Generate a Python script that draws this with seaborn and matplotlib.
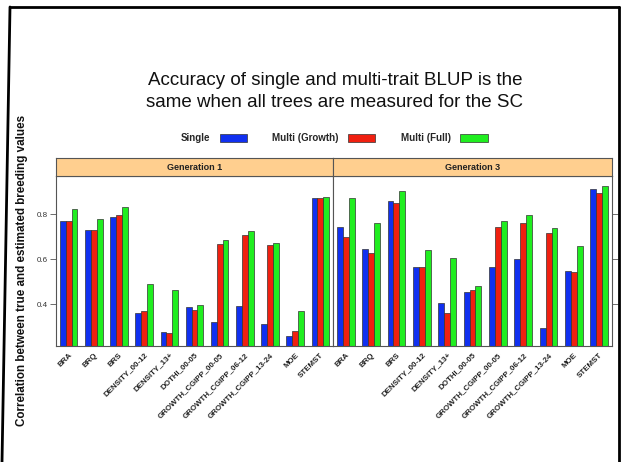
import matplotlib
matplotlib.use("Agg")
import matplotlib.pyplot as plt
from matplotlib.patches import Patch
from matplotlib.lines import Line2D
import seaborn as sns
import pandas as pd

traits = ["BRA", "BRQ", "BRS", "DENSITY_00-12", "DENSITY_13+", "DOTHI_00-05",
          "GROWTH_CGIPP_00-05", "GROWTH_CGIPP_06-12", "GROWTH_CGIPP_13-24",
          "MOE", "STEMST"]
methods = ["Single", "Multi (Growth)", "Multi (Full)"]
generations = ["Generation 1", "Generation 3"]

gen1_single = [0.772, 0.730, 0.787, 0.363, 0.276, 0.387, 0.323, 0.392, 0.311, 0.260, 0.871]
gen1_multi_growth = [0.772, 0.729, 0.797, 0.369, 0.273, 0.373, 0.668, 0.708, 0.662, 0.283, 0.871]
gen1_multi_full = [0.824, 0.781, 0.834, 0.489, 0.464, 0.398, 0.686, 0.726, 0.671, 0.369, 0.876]

gen3_single = [0.745, 0.647, 0.860, 0.567, 0.404, 0.453, 0.564, 0.600, 0.293, 0.549, 0.911]
gen3_multi_growth = [0.698, 0.628, 0.849, 0.568, 0.360, 0.462, 0.742, 0.761, 0.717, 0.543, 0.895]
gen3_multi_full = [0.871, 0.761, 0.905, 0.641, 0.606, 0.483, 0.772, 0.798, 0.738, 0.660, 0.926]

yticks = [0.4, 0.6, 0.8]
title = "Accuracy of single and multi-trait BLUP is the\nsame when all trees are measured for the SC"
ylabel = "Correlation between true and estimated breeding values"

colors = ["#1030F0", "#F02010", "#20EE20"]
strip_color = "#FFCF8F"

rows = []
for gen, series in zip(generations,
                       [(gen1_single, gen1_multi_growth, gen1_multi_full),
                        (gen3_single, gen3_multi_growth, gen3_multi_full)]):
    for m, vals in zip(methods, series):
        for t, v in zip(traits, vals):
            rows.append({"generation": gen, "method": m, "trait": t, "value": v})
df = pd.DataFrame(rows)

sns.set_style("white")
plt.rcParams["font.family"] = ["Liberation Sans", "DejaVu Sans"]

W, H = 621, 462
fig = plt.figure(figsize=(W / 100, H / 100), dpi=100)

def fx(px):
    return px / W

def fy(py):
    return 1 - py / H

panel_top, panel_bot = 175.7, 345.7
strip_top = 158.3
panels = [(56, 333), (333, 612)]
ylim = (0.216, 0.972)

for i, (gen, (x0, x1)) in enumerate(zip(generations, panels)):
    ax = fig.add_axes([fx(x0), fy(panel_bot), fx(x1 - x0), (panel_bot - panel_top) / H])
    sub = df[df["generation"] == gen]
    sns.barplot(data=sub, x="trait", y="value", hue="method", order=traits,
                hue_order=methods, palette=colors, edgecolor="#333333",
                linewidth=0.5, width=0.7, ax=ax, legend=False, saturation=1)
    ax.set_ylim(*ylim)
    ax.set_xlim(-0.5, len(traits) - 0.5)
    ax.set_xlabel("")
    ax.set_ylabel("")
    ax.set_yticks(yticks)
    for s in ax.spines.values():
        s.set_color("#555555")
        s.set_linewidth(0.8)
    ax.set_xticks(range(len(traits)))
    ax.set_xticklabels(traits, rotation=45, ha="right", rotation_mode="anchor",
                       fontsize=5.7, fontweight="bold", color="#222222")
    ax.tick_params(axis="x", length=0, pad=4)
    if i == 0:
        ax.tick_params(axis="y", left=True, right=False, length=4, width=0.6,
                       color="#555555", labelsize=5.8, labelcolor="#333333", pad=2)
    else:
        ax.yaxis.tick_right()
        ax.tick_params(axis="y", right=True, left=False, labelright=False,
                       length=4, width=0.6, color="#555555")
    # strip
    sax = fig.add_axes([fx(x0), fy(panel_top), fx(x1 - x0), (panel_top - strip_top) / H])
    sax.set_facecolor(strip_color)
    sax.set_xticks([])
    sax.set_yticks([])
    for s in sax.spines.values():
        s.set_color("#555555")
        s.set_linewidth(0.8)
    sax.text(0.5, 0.5, gen, ha="center", va="center", fontsize=6.5,
             fontweight="bold", color="#222222", transform=sax.transAxes)

fig.text(fx(335), fy(91.5), title, ha="center", va="center", fontsize=13.5,
         color="#111111", linespacing=1.38)

handles = [Patch(facecolor=c, edgecolor="#333333", linewidth=0.5) for c in colors]
leg = fig.legend(handles, methods, ncol=3, markerfirst=False, frameon=False,
                 loc="center", bbox_to_anchor=(fx(334), fy(138)),
                 prop={"weight": "bold", "size": 7.0}, handlelength=2.8,
                 handleheight=0.9, columnspacing=2.6, handletextpad=1.0)

fig.text(fx(22), fy(270), ylabel, rotation=90, ha="center", va="center",
         fontsize=8.4, fontweight="bold", color="#111111")

# outer frame
lw = 2.0
fig.add_artist(Line2D([fx(10), fx(619)], [fy(7), fy(7)], color="black", lw=lw,
                      transform=fig.transFigure))
fig.add_artist(Line2D([fx(619), fx(619)], [fy(7), fy(462)], color="black", lw=lw,
                      transform=fig.transFigure))
fig.add_artist(Line2D([fx(10), fx(2)], [fy(7), fy(462)], color="black", lw=lw,
                      transform=fig.transFigure))

fig.savefig("out.png", dpi=100)
